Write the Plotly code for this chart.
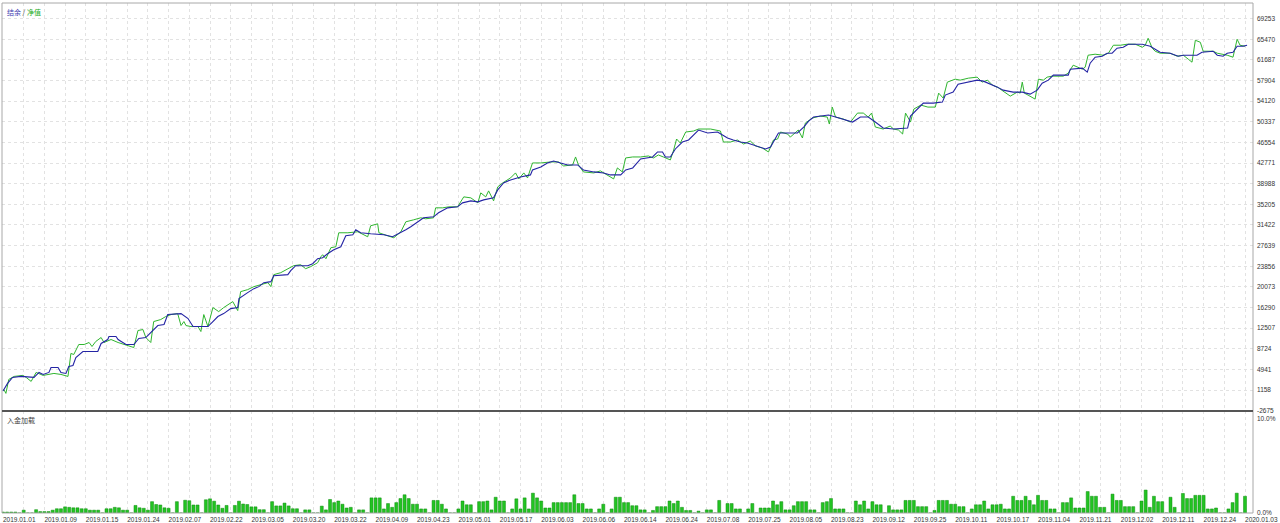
import plotly.graph_objects as go
from plotly.subplots import make_subplots

# ---------------- data ----------------
x_labels = ["2019.01.01", "2019.01.09", "2019.01.15", "2019.01.24", "2019.02.07", "2019.02.22",
            "2019.03.05", "2019.03.20", "2019.03.22", "2019.04.09", "2019.04.23", "2019.05.01",
            "2019.05.17", "2019.06.03", "2019.06.06", "2019.06.14", "2019.06.24", "2019.07.08",
            "2019.07.25", "2019.08.05", "2019.08.23", "2019.09.12", "2019.09.25", "2019.10.11",
            "2019.10.17", "2019.11.04", "2019.11.21", "2019.12.02", "2019.12.11", "2019.12.24",
            "2020.01.03"]
x_label_trades = [i * 10 for i in range(len(x_labels))]

y_ticks = [-2675, 1158, 4941, 8724, 12507, 16290, 20073, 23856, 27639, 31422, 35205,
           38988, 42771, 46554, 50337, 54120, 57904, 61687, 65470, 69253]

balance_trade = [
    0, 1.1, 2.3, 4.3, 7.5, 8.7, 9.7, 11.1, 11.6, 13.3, 14, 15.2, 15.9, 16.9, 17.6, 19.3, 22.9, 23.7, 25.3, 25.6,
    27.3, 27.8, 29.7, 31.6, 32.8, 34.5, 35.2, 36.4, 37.4, 38.9, 39.8, 43, 44.7, 45.9, 49.5, 50.7, 51.9, 53.3, 55, 56.7,
    57, 59.1, 60.6, 61.8, 63, 64.7, 65.4, 68.8, 69.5, 70.7, 73.6, 74.8, 76,
    77.2, 78.4, 79.9, 81.6, 82.8, 84.5, 85.2, 86.4, 88.8, 92, 94.1, 95.6, 97.3, 98.5, 100.2, 101.6, 104, 105.2, 107.4, 109.8,
    111, 113, 114.7, 116.1, 118.5, 119.5, 120.9, 122.6, 125, 127.4, 127.9, 129.9, 131.5, 133, 134.7, 136.4, 138.8, 140.2, 142.7, 145.1,
    146.7, 149.2, 150.4, 152.1, 154,
    155.2, 156.9, 158.1, 159.3, 160, 161.2, 162.4, 164.1, 165.6, 166.5, 168, 170.2, 172.6, 173.8, 175, 176.4, 178.1, 179.8, 181.3, 182.5,
    184.2, 185.4, 187.3, 189.7, 191.9, 193.4, 194.6, 195.8, 197.9, 199.4, 201.1, 203, 205.2, 207.1, 209, 210.7, 212.6, 215.1, 218.5, 219.2,
    220.9, 222.3, 224.7, 226.9, 227.6, 229.5, 230.7,
    233.2, 235.3, 236.8, 238, 240.2, 241.6, 244, 246.2, 248.1, 249.8, 251, 252.5, 253.7, 257.3, 257.8, 260.7, 261.9, 262.6, 263.8, 265.5,
    266.7, 267.9, 269.1, 270.6, 271.8, 275.2, 277.1, 278.3, 279.5, 281.9, 283.9, 285.1, 288.4, 289.6, 292.3, 293.3, 294.7, 295.7, 297.1, 298.1,
    299.5, 300.5]
balance = [
    975, 2383, 3480, 3663, 3480, 4394, 4028, 4394, 5308, 5308, 4394, 4211, 5491, 5674, 7137, 8234, 8234, 9697, 10428, 10977,
    10977, 10428, 9514, 9514, 10611, 10794, 11342, 12257, 12988, 13171, 15000, 15182, 14268, 12805, 12805, 13720, 14634, 15182, 16097, 16280,
    17925, 19022, 19754, 20119, 20851, 21034, 22131, 22314, 23045, 23960, 23960, 24325, 25240,
    25422, 26153, 26885, 27434, 29445, 29628, 30542, 29994, 29811, 29628, 29262, 29811, 30542, 31091, 32005, 32736, 32919, 33651, 34565, 34748,
    35479, 35845, 35662, 36027, 36393, 37856, 39136, 39684, 40233, 40599, 41513, 42061, 42792, 43158, 42792, 42427, 42427, 41513, 41147, 40964,
    40599, 40599, 41513, 41879, 43524,
    43707, 43890, 44804, 44804, 43890, 43890, 45352, 46632, 46998, 47730, 48827, 48278, 48461, 47913, 47364, 46998, 46632, 46449, 46084, 45718,
    45352, 45718, 48278, 48278, 48278, 49375, 50472, 51204, 51387, 51569, 51204, 50838, 50289, 51204, 51204, 50289, 49192, 49009, 49192, 51387,
    52667, 53764, 53764, 53947, 55227, 55775, 57238,
    57604, 57969, 57786, 57421, 56690, 56141, 55775, 55775, 55409, 56141, 57421, 57969, 58883, 58883, 59980, 60163, 59432, 61078, 62175, 62358,
    62907, 62907, 63821, 64004, 64553, 64553, 64187, 63638, 63089, 62907, 62358, 62541, 62541, 63089, 63272, 62541, 62358, 62907, 63089, 64187,
    64187, 64369]

equity_trade = [
    0.2, 0.7, 1.4, 2.7, 4.8, 5.6, 6.8, 8, 9.7, 12.3, 14, 15.7, 16.4, 17.1, 18.3, 19.6, 20.8, 21.5, 22.4, 23.7,
    24.4, 26.1, 27.8, 29.2, 31.6, 32.6, 33.8, 34.5, 35.7, 36.4, 38.1, 39.3, 40.6, 42.2, 43, 43.7, 44.2, 45.4, 47.1, 47.8,
    48.5, 49.5, 50.7, 52.1, 53.3, 55.5, 56.7, 57.4, 59.1, 60.6, 62.3, 64, 64.7, 65.4, 67.1, 68.8, 70.2, 71.9, 73.1, 74.3,
    76, 76.8,
    77.2, 78, 79.2, 80.4, 81.1, 83.3, 85.7, 88.1, 88.8, 90.5, 90.8, 92.9, 94.4, 96.1, 97.3, 99.2, 100.9, 102.1, 104, 104.5,
    106.2, 107.7, 109.8, 111.3, 113, 114.7, 115.4, 116.6, 117.3, 118.5, 119.5, 120.7, 122.6, 123.8, 124.6, 125.8, 126.7, 127.9, 129.9, 132.3,
    134.2, 135.4, 137.6, 138.3, 139, 140.2, 142.7, 144.3, 146, 147.5, 148.4, 149.6, 150.4, 152.1, 154,
    155.9, 157.1, 158.3, 159.5, 161.2, 162, 162.7, 163.6, 164.9, 166.8, 168, 170.9, 173.3, 174, 175.7, 177.4, 178.9, 180.5, 181.8, 183.4,
    184.9, 186.1, 187.1, 187.8, 189.5, 190.2, 191.4, 192.1, 193.1, 193.8, 195.5, 197.4, 199.1, 199.6, 200.3, 201.1, 203, 204.7, 206.4, 207.8,
    209, 209.8, 210.7, 212.6, 214.3, 215.1, 216.3, 217.3, 218, 219.2, 220, 221.7, 223.4, 225.2, 226, 227.1, 228.1, 230, 231.2,
    233.2, 235.3, 236.5, 237.8, 239, 240.2, 242.1, 243.3, 245, 245.7, 246.2, 246.7, 247.6, 249.3, 250.1, 251.3, 252.2, 253.4, 256.1, 257.3,
    258.5, 259.7, 260.7, 261.4, 262.1, 263.8, 265.7, 267, 268.2, 269.9, 271.5, 273.5, 275.2, 275.9, 276.6, 277.6, 278.3, 279.5, 281.9, 283.6,
    285.1, 286.3, 287.2, 288, 289.2, 289.9, 292.3, 293.3, 295.7, 297.1, 298.1, 298.8, 300]
equity = [
    1286, 555, 3114, 3663, 3846, 3480, 2749, 4394, 3846, 4211, 4028, 3663, 7868, 7685, 9514, 9514, 9880, 9148, 10062, 10794,
    9880, 10428, 9880, 9514, 8965, 12074, 12257, 10794, 9880, 13720, 14085, 14634, 15000, 15182, 12988, 13720, 12988, 12805, 12805, 11891,
    15000, 12805, 16280, 15548, 16280, 17377, 15731, 19205, 19571, 20119, 20485, 20851, 20119, 22314, 22680, 23411, 23960, 24142, 23411, 23777,
    24508, 25605,
    25971, 25240, 27251, 27434, 29994, 29994, 30176, 29262, 31274, 31639, 29994, 29445, 29079, 30176, 32005, 32370, 32736, 32553, 32736, 34565,
    34565, 34748, 34748, 36576, 36393, 35479, 37308, 36576, 37673, 35845, 38405, 39136, 40050, 40964, 39867, 40964, 40050, 42792, 42792, 42975,
    42975, 42244, 42427, 43890, 42427, 41147, 40964, 41330, 40599, 39867, 41879, 41147, 43707, 43890, 43890,
    44073, 43707, 44256, 43890, 43341, 45170, 47181, 46449, 48461, 48644, 49009, 49009, 48644, 46632, 46632, 46998, 46266, 46815, 45901, 45535,
    44804, 46998, 47181, 48461, 48095, 47547, 48278, 48827, 47364, 50106, 51021, 51387, 51204, 49923, 53032, 51204, 50838, 50289, 51935, 51935,
    51204, 51935, 49375, 49009, 49558, 49009, 48827, 48095, 51935, 50289, 52667, 53398, 53032, 53032, 55593, 54678, 57604, 58152, 57969,
    58335, 58518, 57604, 57969, 57055, 56690, 55592, 55044, 55775, 55592, 57604, 55592, 55227, 54495, 58152, 57969, 58518, 58701, 58701, 59249,
    60712, 60346, 59980, 60346, 62541, 62724, 62541, 62907, 64369, 64369, 64553, 64553, 64004, 64369, 65649, 63821, 63272, 62907, 62907, 62358,
    62541, 61809, 61261, 65283, 64918, 63272, 63272, 62907, 62541, 62175, 65466, 64369, 64187]

# deposit load per trade, percent
deposit_load = [
    0.1, 0.1, 0.1, 0.1, 0, 0.3, 0, 0, 0.35, 0.15,
    0.15, 0.15, 0.3, 0.45, 0.45, 0.65, 0.6, 0.55, 0.55, 0.45,
    0.45, 0.3, 0.3, 0.3, 0, 0.45, 0.45, 0.6, 0.55, 0.3,
    0.3, 0, 0.8, 0.55, 0.5, 0.3, 1.2, 0.9, 0.85, 0.55,
    0.5, 0, 1.2, 0, 1.35, 1.3, 0.85, 0.85, 0, 1.4,
    1.5, 1.25, 0.85, 0.5, 0.8, 0, 0.8, 1.25, 0.95, 0.9,
    0.65, 0.65, 0.35, 0.35, 0, 1.2, 0.75, 0.75, 1.05, 0.75,
    0.45, 0.45, 0, 0.33, 0.33, 0, 0, 0.73, 0.33, 1.43,
    1.1, 1.27, 0.93, 0.53, 0.6, 0, 0.33, 0.33, 0, 1.6,
    1.6, 1.6, 0.43, 1.0, 0.6, 1.1, 1.53, 1.93, 1.53, 0.93,
    0.93, 0.43, 0.43, 0, 1.33, 1.33, 0.93, 0.43, 0, 0,
    0.43, 1.27, 0.87, 0.87, 0, 1.2, 1.2, 1.27, 0.33, 1.67,
    1.27, 1.27, 0, 0.43, 1.5, 0.43, 1.6, 0.43, 2.1, 1.6,
    1.27, 0.53, 0.53, 1.1, 1.1, 1.1, 1.1, 1.1, 1.93, 1.0,
    1.0, 0.43, 0.43, 0, 0.43, 0.93, 0, 0.43, 1.67, 1.67,
    1.1, 1.1, 0.77, 0.77, 0.33, 0.33, 0, 0.27, 0.67, 0.67,
    0.67, 1.27, 1.0, 1.27, 0.6, 0.27, 0.27, 0, 0.2, 0,
    0.33, 0.33, 0, 1.33, 0, 1.0, 1.0, 0.43, 0.43, 0,
    0.43, 1.0, 0, 0.53, 0.53, 0.53, 1.27, 0.87, 1.2, 0.33,
    0.33, 0.77, 1.2, 1.2, 1.2, 0.33, 0.33, 0, 1.1, 1.2,
    1.53, 0.43, 0.43, 0.43, 0, 0, 1.27, 0.87, 1.27, 0.43,
    1.2, 0.87, 0.87, 0, 0.77, 0.33, 0.33, 0.33, 1.33, 1.33,
    1.33, 0.67, 0.67, 0.67, 0, 0.27, 1.33, 1.33, 1.33, 0.93,
    0.93, 0.67, 0.67, 0, 0.43, 0.87, 0.87, 1.27, 0.43, 0.87,
    0.87, 0.93, 0.43, 0.43, 1.77, 1.33, 1.33, 1.77, 1.33, 0.87,
    1.87, 1.33, 1.33, 0.43, 0.43, 0, 1.1, 1.1, 1.6, 0.53,
    0.53, 0.53, 2.27, 1.77, 1.77, 0.6, 0.6, 0, 2.0, 1.33,
    1.33, 0.67, 0.67, 0.67, 0, 1.27, 2.43, 0.6, 1.77, 1.2,
    1.2, 0, 1.67, 0.6, 0, 2.07, 1.53, 1.53, 1.87, 1.87,
    1.87, 0.43, 0.43, 0.53, 0, 0, 0.43, 1.1, 2.1, 0,
    1.77]
deposit_trade = list(range(len(deposit_load)))

# ---------------- figure ----------------
TICK_FONT = dict(family="Liberation Sans, Arial, sans-serif", size=6.5, color="#333333")
GRID = "#e2e2e2"

fig = make_subplots(rows=2, cols=1, shared_xaxes=True, vertical_spacing=0)

fig.add_trace(go.Scatter(x=equity_trade, y=equity, mode="lines", name="净值",
                         line=dict(color="#2fb52f", width=1)), row=1, col=1)
fig.add_trace(go.Scatter(x=balance_trade, y=balance, mode="lines", name="结余",
                         line=dict(color="#2424a4", width=1.1)), row=1, col=1)
fig.add_trace(go.Bar(x=deposit_trade, y=deposit_load, name="入金加载",
                     marker=dict(color="#22c422", line=dict(color="#0c8a0c", width=0.5))),
              row=2, col=1)

xr = [-0.24, 301.93]
common_x = dict(range=xr, tickvals=x_label_trades, ticktext=x_labels, showgrid=True,
                gridcolor=GRID, griddash="dot", gridwidth=1, zeroline=False, ticks="",
                minor=dict(tick0=0, dtick=5, showgrid=True, gridcolor=GRID, griddash="dot", gridwidth=1),
                showline=False)
fig.update_xaxes(**common_x)
fig.update_layout(
    xaxis=dict(showticklabels=False),
    xaxis2=dict(showticklabels=True, tickfont=TICK_FONT, ticklabelposition="outside right",
                ticklabelstandoff=1),
    yaxis=dict(domain=[0.2, 1], range=[-2675, 72110], side="right", tickvals=y_ticks,
               ticktext=[str(v) for v in y_ticks], tickfont=TICK_FONT, showgrid=True,
               gridcolor=GRID, griddash="dot", zeroline=False, ticks="", ticklabelstandoff=3),
    yaxis2=dict(domain=[0, 0.2], range=[0, 10.8], side="right", tickvals=[0, 10],
                ticktext=["0.0%", "10.0%"], tickfont=TICK_FONT, showgrid=False,
                zeroline=False, ticks="", ticklabelstandoff=3),
    width=1280, height=523,
    margin=dict(l=2, r=27, t=3, b=10, autoexpand=False),
    paper_bgcolor="white", plot_bgcolor="white",
    showlegend=False, bargap=0.28,
    shapes=[
        dict(type="rect", xref="paper", yref="paper", x0=0, x1=1, y0=0.2, y1=1,
             line=dict(color="#a8a8a8", width=1)),
        dict(type="rect", xref="paper", yref="paper", x0=0, x1=1, y0=0, y1=0.2,
             line=dict(color="#a8a8a8", width=1)),
        dict(type="line", xref="paper", yref="paper", x0=0, x1=1, y0=0.2, y1=0.2,
             line=dict(color="#555555", width=2)),
    ],
    annotations=[
        dict(xref="paper", yref="paper", x=0.002, y=0.997, xanchor="left", yanchor="top",
             showarrow=False,
             text='<span style="color:#3b3bb0">结余</span><span style="color:#333"> / </span>'
                  '<span style="color:#22aa22">净值</span>',
             font=dict(family="Noto Sans CJK SC", size=7)),
        dict(xref="paper", yref="paper", x=0.002, y=0.197, xanchor="left", yanchor="top",
             showarrow=False, text="入金加载",
             font=dict(family="Noto Sans CJK SC", size=7, color="#444444")),
    ],
)

fig.write_html("out.html", config={"displayModeBar": False},
               post_script="document.body.style.margin='0px';")
